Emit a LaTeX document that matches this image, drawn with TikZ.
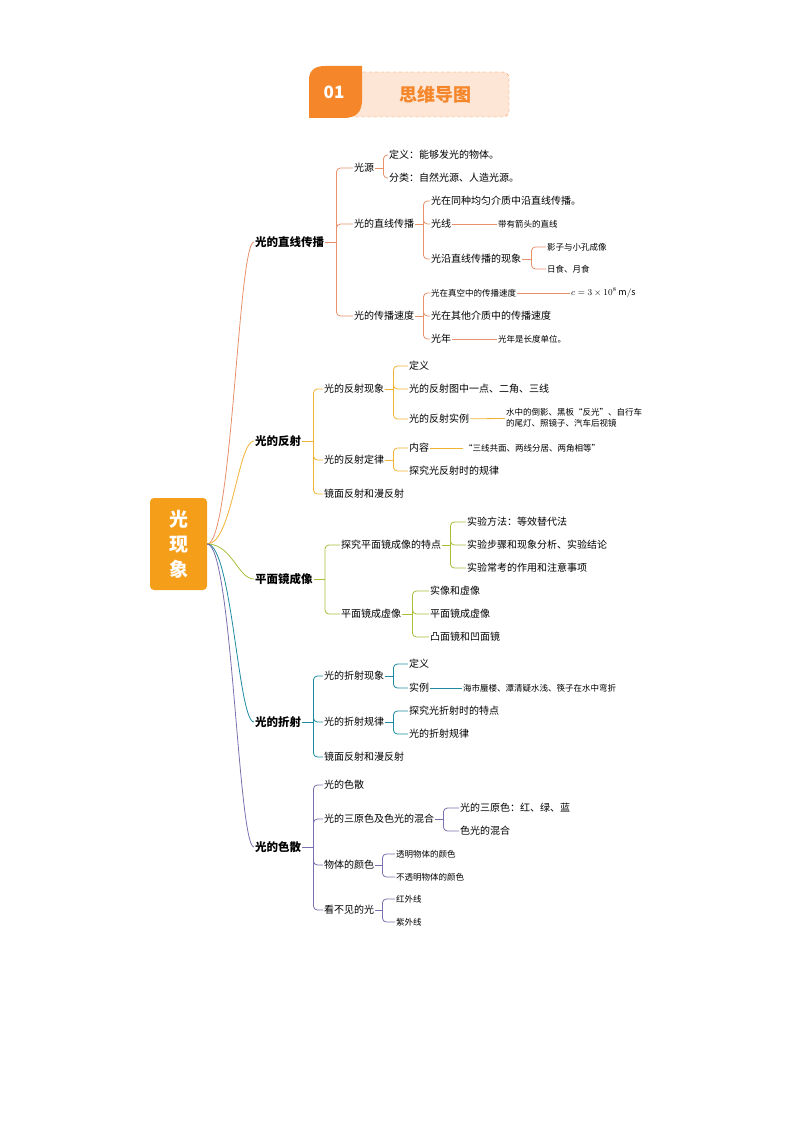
\documentclass[tikz,border=0pt]{standalone}
\usepackage{fontspec}
\setmainfont{Noto Sans CJK SC}
\usetikzlibrary{positioning}
\definecolor{cA}{HTML}{E8906A}
\definecolor{cB}{HTML}{F2B233}
\definecolor{cC}{HTML}{A8BE3A}
\definecolor{cD}{HTML}{1E8AA0}
\definecolor{cE}{HTML}{7B6FAE}
\definecolor{hdr}{HTML}{F5862A}
\definecolor{peach}{HTML}{FDE6D6}
\definecolor{core}{HTML}{F59E1A}
\tikzset{
  lone/.style = {anchor = west, inner sep = 1pt, font = \fontsize{11.5}{13}\selectfont\bfseries},
  ltwo/.style = {anchor = west, inner sep = 1pt, font = \fontsize{10}{12}\selectfont},
  lsmall/.style = {anchor = west, inner sep = 1pt, font = \fontsize{8.5}{10.5}\selectfont},
  link/.style = {line width = 0.8pt, rounded corners = 4pt}
}
% bracket: colour, parent, stub length, list of children
\newcommand{\brk}[4]{%
  \draw[link, #1] (#2.east) -- ++(#3,0) coordinate (#2-j);
  \foreach \c in {#4} \draw[link, #1] (#2-j) |- (\c.west);
}
\begin{document}
\begin{tikzpicture}[x = 1pt, y = -1pt]
\useasboundingbox (0,0) rectangle (794,1123);

% header
\draw[hdr, dashed, fill = peach, rounded corners = 6pt] (350,72) rectangle (509,117);
\fill[hdr] (309,118) -- (309,80) .. controls (309,70) and (315,66) .. (325,66) -- (362,66) -- (362,100) .. controls (362,112) and (356,118) .. (344,118) -- cycle;
\node[text = white, font = \fontsize{17}{17}\selectfont\bfseries] (num) at (334,92) {01};
\node[text = hdr, font = \fontsize{18}{18}\selectfont\bfseries] (title) at (435,95) {思维导图};

% centre
\node[fill = core, rounded corners = 4pt, minimum width = 57pt, minimum height = 92pt, text = white,
      align = center, font = \fontsize{19}{25}\selectfont\bfseries] (root) at (178.5,544) {光\\现\\象};

% level one
\node[lone] (s1) at (254,242) {光的直线传播};
\node[lone] (s2) at (254,441) {光的反射};
\node[lone] (s3) at (254,579) {平面镜成像};
\node[lone] (s4) at (254,722) {光的折射};
\node[lone] (s5) at (254,847) {光的色散};
\foreach \n/\c in {s1/cA, s2/cB, s3/cC, s4/cD, s5/cE}
  \draw[\c, line width = 0.8pt] (root.east) .. controls (232,544) and ([xshift = -16pt]\n.west) .. (\n.west);

% branch 1
\node[ltwo] (s1a) at (353,168) {光源};
\node[ltwo] (s1a1) at (388,155) {定义：能够发光的物体。};
\node[ltwo] (s1a2) at (388,178) {分类：自然光源、人造光源。};
\node[ltwo] (s1b) at (353,224) {光的直线传播};
\node[ltwo] (s1b1) at (430,201) {光在同种均匀介质中沿直线传播。};
\node[ltwo] (s1b2) at (430,224) {光线};
\node[lsmall] (s1b2a) at (497,224) {带有箭头的直线};
\node[ltwo] (s1b3) at (430,259) {光沿直线传播的现象};
\node[lsmall] (s1b3a) at (546,247) {影子与小孔成像};
\node[lsmall] (s1b3b) at (546,269) {日食、月食};
\node[ltwo] (s1c) at (353,316) {光的传播速度};
\node[lsmall] (s1c1) at (430,293) {光在真空中的传播速度};
\node[anchor = west, inner sep = 1pt, font = \fontsize{9}{11}\selectfont] (s1c1a) at (570,293) {$c=3\times10^{8}\,\mathrm{m/s}$};
\node[ltwo] (s1c2) at (430,316) {光在其他介质中的传播速度};
\node[ltwo] (s1c3) at (430,339) {光年};
\node[lsmall] (s1c3a) at (497,339) {光年是长度单位。};
\brk{cA}{s1}{11}{s1a, s1b, s1c}
\brk{cA}{s1a}{8}{s1a1, s1a2}
\brk{cA}{s1b}{8}{s1b1, s1b2, s1b3}
\brk{cA}{s1b3}{9}{s1b3a, s1b3b}
\brk{cA}{s1c}{8}{s1c1, s1c2, s1c3}
\draw[cA, link] (s1b2) -- (s1b2a);
\draw[cA, link] (s1c1) -- (s1c1a);
\draw[cA, link] (s1c3) -- (s1c3a);

% branch 2
\node[ltwo] (s2a) at (323,389) {光的反射现象};
\node[ltwo] (s2a1) at (408,366) {定义};
\node[ltwo] (s2a2) at (408,389) {光的反射图中一点、二角、三线};
\node[ltwo] (s2a3) at (408,419) {光的反射实例};
\node[lsmall, align = left] (s2a3a) at (505,418) {水中的倒影、黑板“反光”、自行车\\的尾灯、照镜子、汽车后视镜};
\node[ltwo] (s2b) at (323,460) {光的反射定律};
\node[ltwo] (s2b1) at (408,448) {内容};
\node[lsmall] (s2b1a) at (463,448) {“三线共面、两线分居、两角相等”};
\node[ltwo] (s2b2) at (408,471) {探究光反射时的规律};
\node[ltwo] (s2c) at (323,494) {镜面反射和漫反射};
\brk{cB}{s2}{11}{s2a, s2b, s2c}
\brk{cB}{s2a}{8}{s2a1, s2a2, s2a3}
\brk{cB}{s2b}{8}{s2b1, s2b2}
\draw[cB, link] (s2a3) -- (s2a3a);
\draw[cB, link] (s2b1) -- (s2b1a);

% branch 3
\node[ltwo] (s3a) at (340,545) {探究平面镜成像的特点};
\node[ltwo] (s3a1) at (466,522) {实验方法：等效替代法};
\node[ltwo] (s3a2) at (466,545) {实验步骤和现象分析、实验结论};
\node[ltwo] (s3a3) at (466,568) {实验常考的作用和注意事项};
\node[ltwo] (s3b) at (340,614) {平面镜成虚像};
\node[ltwo] (s3b1) at (429,591) {实像和虚像};
\node[ltwo] (s3b2) at (429,614) {平面镜成虚像};
\node[ltwo] (s3b3) at (429,637) {凸面镜和凹面镜};
\brk{cC}{s3}{11}{s3a, s3b}
\brk{cC}{s3a}{8}{s3a1, s3a2, s3a3}
\brk{cC}{s3b}{10}{s3b1, s3b2, s3b3}

% branch 4
\node[ltwo] (s4a) at (323,676) {光的折射现象};
\node[ltwo] (s4a1) at (408,664) {定义};
\node[ltwo] (s4a2) at (408,688) {实例};
\node[lsmall] (s4a2a) at (462,688) {海市蜃楼、潭清疑水浅、筷子在水中弯折};
\node[ltwo] (s4b) at (323,722) {光的折射规律};
\node[ltwo] (s4b1) at (408,711) {探究光折射时的特点};
\node[ltwo] (s4b2) at (408,734) {光的折射规律};
\node[ltwo] (s4c) at (323,757) {镜面反射和漫反射};
\brk{cD}{s4}{11}{s4a, s4b, s4c}
\brk{cD}{s4a}{8}{s4a1, s4a2}
\brk{cD}{s4b}{8}{s4b1, s4b2}
\draw[cD, link] (s4a2) -- (s4a2a);

% branch 5
\node[ltwo] (s5a) at (323,785) {光的色散};
\node[ltwo] (s5b) at (323,819) {光的三原色及色光的混合};
\node[ltwo] (s5b1) at (459,808) {光的三原色：红、绿、蓝};
\node[ltwo] (s5b2) at (459,831) {色光的混合};
\node[ltwo] (s5c) at (323,865) {物体的颜色};
\node[lsmall] (s5c1) at (395,854) {透明物体的颜色};
\node[lsmall] (s5c2) at (395,877) {不透明物体的颜色};
\node[ltwo] (s5d) at (323,910) {看不见的光};
\node[lsmall] (s5d1) at (395,899) {红外线};
\node[lsmall] (s5d2) at (395,922) {紫外线};
\brk{cE}{s5}{11}{s5a, s5b, s5c, s5d}
\brk{cE}{s5b}{8}{s5b1, s5b2}
\brk{cE}{s5c}{7}{s5c1, s5c2}
\brk{cE}{s5d}{7}{s5d1, s5d2}
\end{tikzpicture}
\end{document}
